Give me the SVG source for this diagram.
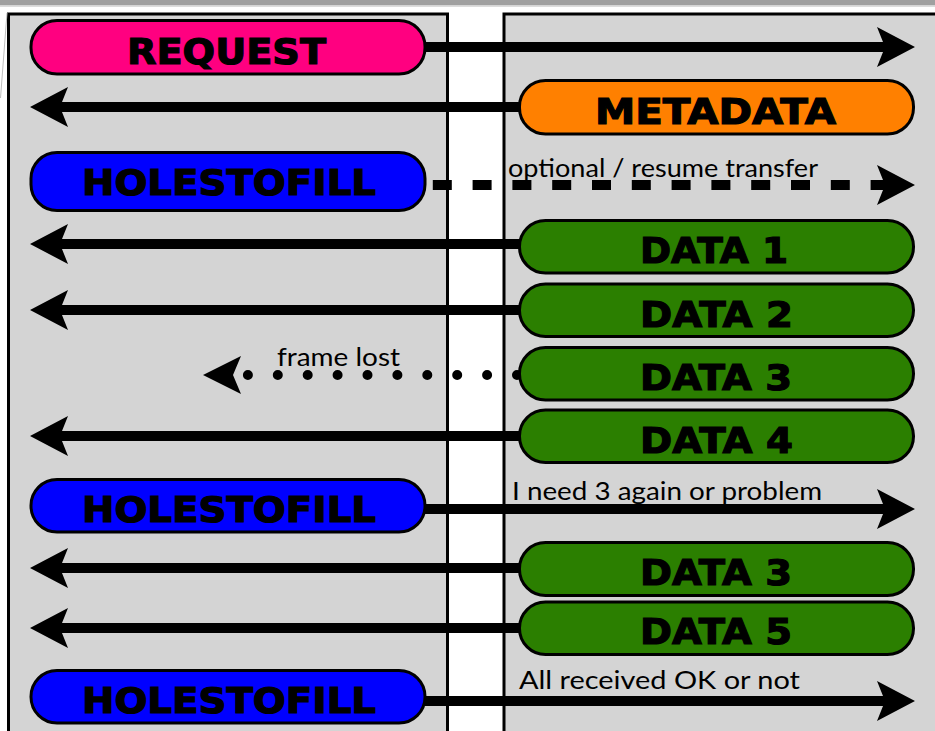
<svg xmlns="http://www.w3.org/2000/svg" width="935" height="731" viewBox="0 0 935 731">
  <style>
    .panel { fill: #d4d4d4; stroke: #000; stroke-width: 3; }
    .box { stroke: #000; stroke-width: 3; }
    .pink { fill: #ff0080; }
    .orange { fill: #ff8000; }
    .blue { fill: #0000ff; }
    .green { fill: #2b7f00; }
    .big { font-family: "DejaVu Sans", "Liberation Sans", sans-serif; font-weight: bold; font-size: 36px; fill: #000; stroke: #000; stroke-width: 1.2; }
    .lbl { font-family: "Lato", "Open Sans", "Liberation Sans", sans-serif; font-size: 25px; fill: #000; }
    .line { fill: none; stroke: #000; stroke-width: 10; }
    .solid { marker-end: url(#ah); }
    .dashed { stroke-dasharray: 19 20.8; stroke-dashoffset: 32; marker-end: url(#ah); }
    .dotted { stroke-linecap: round; stroke-dasharray: 0 29.9; marker-end: url(#ahd); }
  </style>
  <defs>
    <marker id="ah" markerUnits="userSpaceOnUse" viewBox="-10 -22 44 44" markerWidth="44" markerHeight="44" refX="0" refY="0" orient="auto">
      <path d="M30,0 L-8,-20 L0,0 L-8,20 Z" fill="#000"/>
    </marker>
    <marker id="ahd" markerUnits="userSpaceOnUse" viewBox="0 -22 50 44" markerWidth="50" markerHeight="44" refX="0" refY="0" orient="auto">
      <path d="M44,0 L6,-19 L14,0 L6,19 Z" fill="#000"/>
    </marker>
  </defs>

  <rect x="0" y="0" width="935" height="731" fill="#fff"/>
  <rect x="0" y="0" width="935" height="5.5" fill="#a0a0a0"/>
  <rect x="0" y="5.5" width="935" height="1.5" fill="#dcdcdc"/>

  <g id="panels">
    <rect class="panel" x="8.5" y="14" width="439" height="730"/>
    <rect class="panel" x="504" y="14" width="440" height="730"/>
    <line x1="7" y1="13" x2="0.5" y2="98" stroke="#bdbdbd" stroke-width="1"/>
  </g>

  <g id="connectors">
    <path class="line solid" d="M425,47 L885,47"/>
    <path class="line solid" d="M519,107 L60,107"/>
    <path class="line dashed" d="M425,185 L885,185"/>
    <path class="line solid" d="M519,244 L60,244"/>
    <path class="line solid" d="M519,310 L60,310"/>
    <path class="line dotted" d="M517,375 L247,375"/>
    <path class="line solid" d="M519,436 L60,436"/>
    <path class="line solid" d="M425,509 L885,509"/>
    <path class="line solid" d="M519,568 L60,568"/>
    <path class="line solid" d="M519,628 L60,628"/>
    <path class="line solid" d="M425,701 L885,701"/>
    <text class="lbl" x="508" y="177" textLength="310" lengthAdjust="spacingAndGlyphs">optional / resume transfer</text>
    <text class="lbl" x="277" y="366" textLength="123" lengthAdjust="spacingAndGlyphs">frame lost</text>
    <text class="lbl" x="512" y="500" textLength="310" lengthAdjust="spacingAndGlyphs">I need 3 again or problem</text>
    <text class="lbl" x="519" y="689" textLength="281" lengthAdjust="spacingAndGlyphs">All received OK or not</text>
  </g>

  <g id="request">
    <rect class="box pink" x="31" y="20.5" width="394" height="53.5" rx="26"/>
    <text class="big" x="127" y="64" textLength="199" lengthAdjust="spacingAndGlyphs">REQUEST</text>
  </g>
  <g id="metadata">
    <rect class="box orange" x="519.5" y="80.5" width="394" height="53.5" rx="26"/>
    <text class="big" x="595" y="124" textLength="241" lengthAdjust="spacingAndGlyphs">METADATA</text>
  </g>
  <g id="holestofill1">
    <rect class="box blue" x="31" y="152.5" width="394" height="58" rx="26"/>
    <text class="big" x="82" y="195" textLength="294" lengthAdjust="spacingAndGlyphs">HOLESTOFILL</text>
  </g>
  <g id="data1">
    <rect class="box green" x="519.5" y="220.5" width="394" height="52.5" rx="26"/>
    <text class="big" x="640" y="263" textLength="148" lengthAdjust="spacingAndGlyphs">DATA 1</text>
  </g>
  <g id="data2">
    <rect class="box green" x="519.5" y="284" width="394" height="52.5" rx="26"/>
    <text class="big" x="640" y="327" textLength="153" lengthAdjust="spacingAndGlyphs">DATA 2</text>
  </g>
  <g id="data3">
    <rect class="box green" x="519.5" y="347.5" width="394" height="52.5" rx="26"/>
    <text class="big" x="640" y="390" textLength="152" lengthAdjust="spacingAndGlyphs">DATA 3</text>
  </g>
  <g id="data4">
    <rect class="box green" x="519.5" y="410" width="394" height="52.5" rx="26"/>
    <text class="big" x="640" y="453" textLength="153" lengthAdjust="spacingAndGlyphs">DATA 4</text>
  </g>
  <g id="holestofill2">
    <rect class="box blue" x="31" y="479.5" width="394" height="52.5" rx="26"/>
    <text class="big" x="82" y="522" textLength="294" lengthAdjust="spacingAndGlyphs">HOLESTOFILL</text>
  </g>
  <g id="data3b">
    <rect class="box green" x="519.5" y="542.5" width="394" height="53" rx="26"/>
    <text class="big" x="640" y="585" textLength="152" lengthAdjust="spacingAndGlyphs">DATA 3</text>
  </g>
  <g id="data5">
    <rect class="box green" x="519.5" y="602" width="394" height="52.5" rx="26"/>
    <text class="big" x="640" y="644" textLength="152" lengthAdjust="spacingAndGlyphs">DATA 5</text>
  </g>
  <g id="holestofill3">
    <rect class="box blue" x="31" y="670.5" width="394" height="52.5" rx="26"/>
    <text class="big" x="82" y="713" textLength="294" lengthAdjust="spacingAndGlyphs">HOLESTOFILL</text>
  </g>
</svg>
